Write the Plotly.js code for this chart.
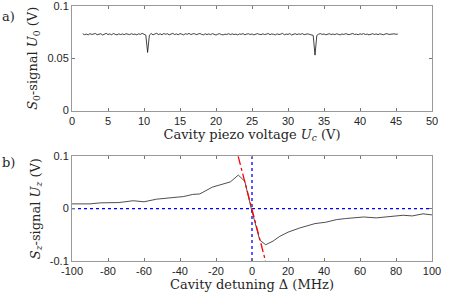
<!DOCTYPE html>
<html><head><meta charset="utf-8">
<script src="https://cdn.plot.ly/plotly-3.0.1.min.js"></script>
<style>html,body{margin:0;padding:0;background:#fff}#plot{width:451px;height:300px}</style>
</head><body><div id="plot"></div>
<script>
// Panel a) S0 signal vs piezo voltage (x0 = 1.5 V, step 0.25 V)
var piezoStart = 1.5, piezoStep = 0.25;
var s0Signal = [
0.0734,0.0726,0.0731,0.0724,0.0736,0.0728,0.0732,0.0737,0.0725,0.0730,
0.0735,0.0723,0.0731,0.0738,0.0727,0.0733,0.0725,0.0737,0.0729,0.0724,
0.0734,0.0727,0.0733,0.0726,0.0735,0.0732,0.0726,0.0735,0.0728,0.0732,
0.0724,0.0734,0.0729,0.0738,0.0726,0.0722,0.0556,0.0721,0.0737,0.0724,
0.0732,0.0739,0.0727,0.0734,0.0725,0.0737,0.0730,0.0735,0.0724,0.0731,
0.0738,0.0727,0.0733,0.0725,0.0736,0.0731,0.0724,0.0735,0.0729,0.0738,
0.0727,0.0733,0.0736,0.0726,0.0731,0.0737,0.0729,0.0724,0.0734,0.0727,
0.0733,0.0726,0.0736,0.0729,0.0722,0.0731,0.0735,0.0727,0.0724,0.0731,
0.0728,0.0735,0.0726,0.0734,0.0727,0.0731,0.0724,0.0733,0.0729,0.0736,
0.0725,0.0731,0.0735,0.0727,0.0733,0.0724,0.0731,0.0736,0.0729,0.0726,
0.0734,0.0727,0.0731,0.0737,0.0726,0.0733,0.0729,0.0724,0.0734,0.0727,
0.0731,0.0738,0.0725,0.0732,0.0728,0.0736,0.0723,0.0730,0.0735,0.0727,
0.0733,0.0729,0.0736,0.0726,0.0731,0.0734,0.0728,0.0723,0.0719,0.0530,
0.0718,0.0731,0.0736,0.0728,0.0733,0.0725,0.0731,0.0735,0.0727,0.0732,
0.0726,0.0734,0.0729,0.0724,0.0733,0.0728,0.0735,0.0730,0.0726,0.0732,
0.0737,0.0728,0.0731,0.0725,0.0734,0.0729,0.0736,0.0727,0.0732,0.0724,
0.0731,0.0735,0.0728,0.0733,0.0726,0.0734,0.0730,0.0725,0.0732,0.0736,
0.0728,0.0731,0.0727,0.0734,0.0729,0.0732];

// Panel b) Sz signal vs detuning
var detuning = [-100,-90,-84,-74,-66,-60,-53,-42,-38,-33,-29,-22,-14,-12,-7.6,-4,-0.4,4.3,7.6,11.7,15.4,20,26.5,32,35,41,47,52,62,69,78,84,89,95,100];
var szSignal = [0.009,0.009,0.011,0.0115,0.015,0.013,0.018,0.022,0.023,0.027,0.028,0.041,0.048,0.051,0.064,0.052,0,-0.06,-0.069,-0.062,-0.053,-0.045,-0.037,-0.032,-0.0286,-0.026,-0.021,-0.019,-0.016,-0.0177,-0.0155,-0.0127,-0.014,-0.010,-0.012];
var fitX = [-7.7, 7.5];
var fitY = [0.1, -0.1];

var topXTicks = [0,5,10,15,20,25,30,35,40,45,50];
var topYTicks = [0,0.05,0.1];
var topYLabels = ['0','0.05','0.1'];
var botXTicks = [-100,-80,-60,-40,-20,0,20,40,60,80,100];
var botXLabels = ['-100','-80','-60','-40','-20','0','20','40','60','80','100'];
var botYTicks = [-0.1,0,0.1];
var botYLabels = ['-0.1','0','0.1'];

var traces = [
  {x0: piezoStart, dx: piezoStep, y: s0Signal, type:'scatter', mode:'lines',
   line:{color:'#111', width:0.8}, xaxis:'x', yaxis:'y', hoverinfo:'skip'},
  {x:[-100,100], y:[0,0], type:'scatter', mode:'lines',
   line:{color:'#0000ff', width:1.3, dash:'dot'}, xaxis:'x2', yaxis:'y2'},
  {x:[0,0], y:[-0.1,0.1], type:'scatter', mode:'lines',
   line:{color:'#0000ff', width:1.3, dash:'dot'}, xaxis:'x2', yaxis:'y2'},
  {x: detuning, y: szSignal, type:'scatter', mode:'lines',
   line:{color:'#222', width:0.8}, xaxis:'x2', yaxis:'y2'},
  {x: fitX, y: fitY, type:'scatter', mode:'lines',
   line:{color:'#ff0000', width:1.3, dash:'dashdot'}, xaxis:'x2', yaxis:'y2'}
];

var tickFont = {family:'Liberation Sans, Arial, sans-serif', size:11, color:'#262626'};
var titleFont = {family:'DejaVu Serif, serif', size:13, color:'#262626'};
function ax(extra){
  var base = {showline:true, linecolor:'#999', linewidth:1, mirror:'ticks', ticks:'inside',
    ticklen:3, tickcolor:'#777', showgrid:false, zeroline:false, tickfont:tickFont,
    ticklabeloverflow:'allow'};
  for (var k in extra) base[k]=extra[k];
  return base;
}
var layout = {
  width:451, height:300, showlegend:false,
  margin:{l:72, r:19, t:6, b:39},
  paper_bgcolor:'#fff', plot_bgcolor:'#fff',
  xaxis: ax({domain:[0,1], range:[0,50], tickvals:topXTicks, anchor:'y',
    title:{text:'Cavity piezo voltage <i>U<sub>c</sub></i> (V)', font:titleFont, standoff:0}}),
  yaxis: ax({domain:[0.59,1], range:[0,0.10001], tickvals:topYTicks, ticktext:topYLabels, anchor:'x',
    title:{text:'<i>S</i><sub>0</sub>-signal <i>U</i><sub>0</sub> (V)', font:titleFont, standoff:6}}),
  xaxis2: ax({domain:[0,1], range:[-100,100], tickvals:botXTicks, ticktext:botXLabels, anchor:'y2',
    title:{text:'Cavity detuning Δ (MHz)', font:titleFont, standoff:2}}),
  yaxis2: ax({domain:[0,0.411], range:[-0.10001,0.10001], tickvals:botYTicks, ticktext:botYLabels, anchor:'x2',
    title:{text:'<i>S<sub>z</sub></i>-signal <i>U<sub>z</sub></i> (V)', font:titleFont, standoff:6}}),
  annotations:[
    {text:'a)', xref:'paper', yref:'paper', x:-0.2, y:0.96, xanchor:'left', yanchor:'middle', showarrow:false, font:titleFont},
    {text:'b)', xref:'paper', yref:'paper', x:-0.2, y:0.385, xanchor:'left', yanchor:'middle', showarrow:false, font:titleFont}
  ]
};
Plotly.newPlot('plot', traces, layout, {staticPlot:true, displayModeBar:false});
</script></body></html>
